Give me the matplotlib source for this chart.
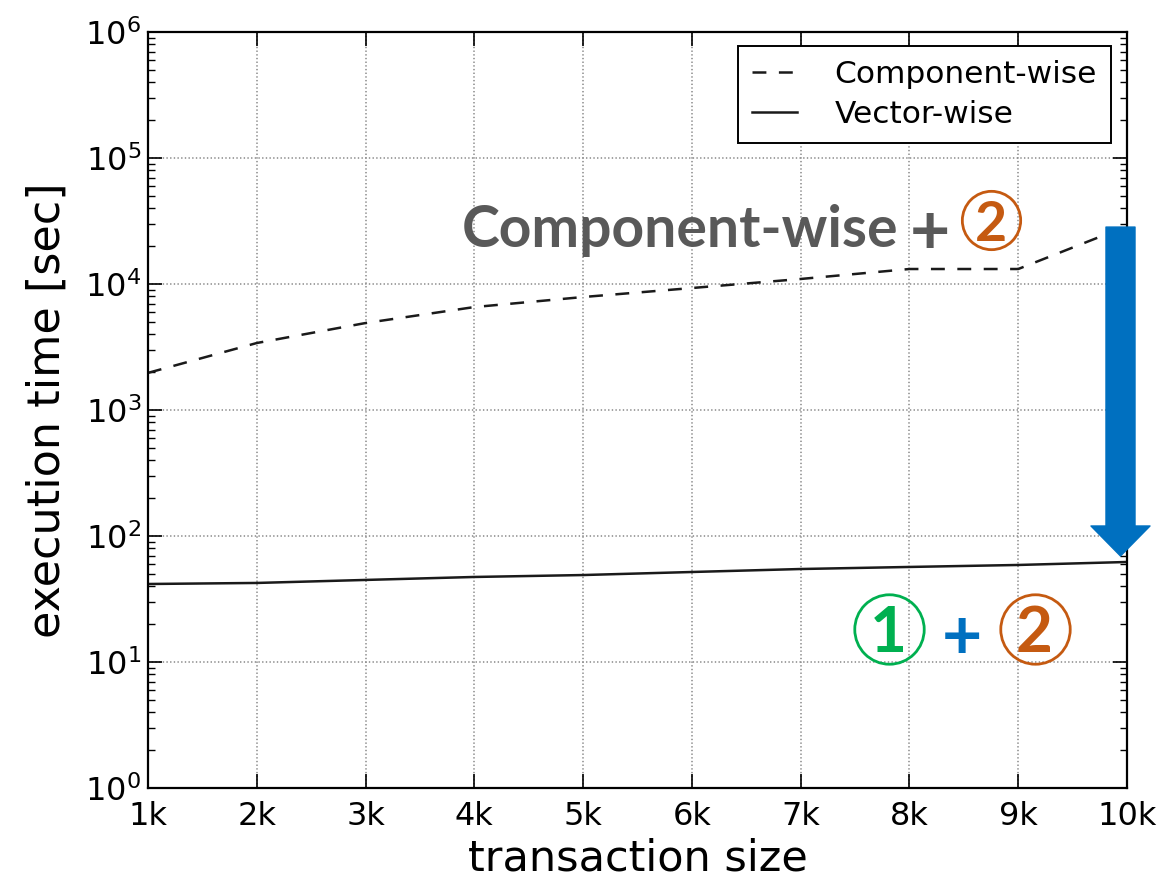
import matplotlib
matplotlib.use("Agg")
import matplotlib.pyplot as plt
from matplotlib.patches import FancyArrowPatch
from matplotlib.ticker import FixedLocator, FixedFormatter, LogLocator, NullFormatter

# transaction size (thousands)
sizes = [1, 2, 3, 4, 5, 6, 7, 8, 9, 10]
size_labels = ['1k', '2k', '3k', '4k', '5k', '6k', '7k', '8k', '9k', '10k']
# execution time [sec]
component_wise = [1970, 3400, 4900, 6560, 7880, 9290, 10960, 13150, 13150, 28800]
vector_wise = [41.6, 42.4, 44.8, 47.3, 49.0, 51.8, 54.7, 56.8, 58.9, 62.2]

GRAY = '#595959'
GREEN = '#00B050'
ORANGE = '#C55A11'
BLUE = '#0070C0'

plt.rcParams['lines.scale_dashes'] = False

fig = plt.figure(figsize=(11.65, 8.86), dpi=100)
ax = fig.add_axes([0.127, 0.1106, 0.8404, 0.8533])

ax.plot(sizes, component_wise, color='#1a1a1a', lw=1.8, dashes=(10, 9), label='Component-wise')
ax.plot(sizes, vector_wise, color='#1a1a1a', lw=1.8, label='Vector-wise')

ax.set_yscale('log')
ax.set_xlim(1, 10)
ax.set_ylim(1, 1e6)
ax.xaxis.set_major_locator(FixedLocator(sizes))
ax.xaxis.set_major_formatter(FixedFormatter(size_labels))
ax.yaxis.set_major_locator(LogLocator(base=10, numticks=10))
ax.yaxis.set_minor_locator(LogLocator(base=10, subs=range(2, 10), numticks=20))
ax.yaxis.set_minor_formatter(NullFormatter())

ax.grid(True, which='major', color='#888888', linestyle=':', lw=1.1)
ax.tick_params(which='both', direction='in', top=True, right=True, labelsize=23)
ax.tick_params(which='major', length=10, width=1.2)
ax.tick_params(which='minor', length=5, width=1)
ax.tick_params(axis='x', pad=9)
ax.tick_params(axis='y', pad=5)
for s in ax.spines.values():
    s.set_linewidth(1.6)

ax.set_xlabel('transaction size', fontsize=31, labelpad=4)
ax.set_ylabel('execution time [sec]', fontsize=32, labelpad=12)

leg = ax.legend(loc='upper right', bbox_to_anchor=(0.9837, 0.9815), borderaxespad=0,
                fontsize=22.5, handlelength=1.45, handletextpad=1.2, fancybox=False,
                framealpha=1, borderpad=0.45, labelspacing=0.35)
leg.get_frame().set_edgecolor('black')
leg.get_frame().set_linewidth(1.4)

# annotations
ax.text(3.887, 19700, 'Component-wise', fontsize=41, fontweight='bold', color=GRAY,
        family='Lato', ha='left', va='baseline')
ax.text(8.19, 27800, '+', fontsize=50, fontweight='bold', color=GRAY, family='Lato',
        ha='center', va='center_baseline')
ax.plot(8.75, 32200, 'o', ms=42, mfc='none', mec=ORANGE, mew=2)
ax.text(8.75, 32200, '2', fontsize=40, fontweight='bold', color=ORANGE, family='Lato',
        ha='center', va='center_baseline')

ax.plot(7.81, 18.3, 'o', ms=50, mfc='none', mec=GREEN, mew=2, clip_on=False)
ax.text(7.81, 18.3, '1', fontsize=46, fontweight='bold', color=GREEN, family='Lato',
        ha='center', va='center_baseline')
ax.text(8.48, 16.8, '+', fontsize=50, fontweight='bold', color=BLUE, family='Lato',
        ha='center', va='center_baseline')
ax.plot(9.15, 18.3, 'o', ms=50, mfc='none', mec=ORANGE, mew=2, clip_on=False)
ax.text(9.15, 18.3, '2', fontsize=46, fontweight='bold', color=ORANGE, family='Lato',
        ha='center', va='center_baseline')

arrow = FancyArrowPatch((9.94, 28300), (9.94, 69.4),
                        arrowstyle='simple,head_length=2.16,head_width=4.25,tail_width=2.09',
                        mutation_scale=10, color=BLUE, shrinkA=0, shrinkB=0, clip_on=False,
                        zorder=5)
ax.add_patch(arrow)

fig.savefig('out.png', dpi=100)
